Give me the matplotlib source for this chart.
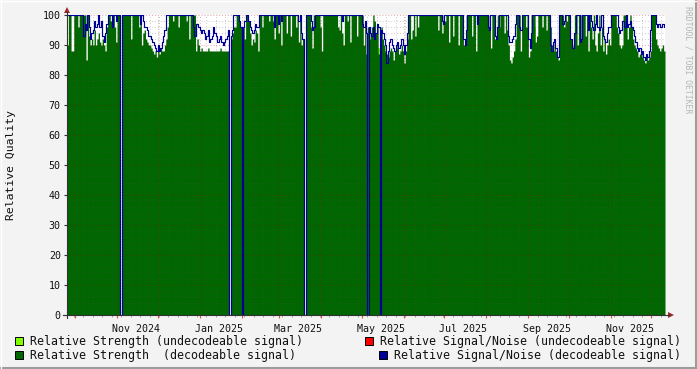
import datetime as dt
import matplotlib
matplotlib.use('Agg')
import matplotlib.pyplot as plt
import matplotlib.dates as mdates
from matplotlib.lines import Line2D
from matplotlib.patches import Rectangle, Polygon

# ================= 1. data (one value per day) =================
START = dt.date(2024, 9, 25)

strength = [
    90, 100, 100, 88, 88, 100, 100, 100, 96, 100,                 # 0-9
    100, 100, 100, 100, 85, 100, 93, 90, 92, 90,                  # 10-19
    95, 90, 92, 94, 91, 90, 92, 90, 88, 96,                       # 20-29
    100, 100, 98, 100, 100, 96, 91, 100, 100, 0,                  # 30-39
    0,                                                            # 40 gap
    100, 100, 100, 100, 100, 100, 92, 100, 100, 100,              # 41-50
    100, 100, 96, 100, 90, 94, 95, 92, 91, 90,                    # 51-60
    90, 89, 88, 87, 88, 86, 88, 87, 89, 88,                       # 61-70
    88, 90, 92, 96, 100, 100, 100, 98, 100, 100,                  # 71-80
    100, 96, 100, 100, 100, 100, 100, 98, 100, 92,                # 81-90
    100, 100, 100, 100, 88, 92, 90, 88, 89, 88,                   # 91-100
    88, 88, 88, 89, 88, 88, 88, 88, 88, 88,                       # 101-110
    88, 88, 89, 88, 88, 88, 88, 88, 88,                           # 111-119
    0,                                                            # 120 gap
    92, 94, 96, 96, 100, 100, 98, 96,                             # 121-128
    96,                                                           # 129
    96, 92, 100, 100, 98, 94, 90, 92, 91, 95, 94,                 # 130-140
    88, 100, 100, 96, 100, 100, 100, 100, 98, 100,                # 141-150
    100, 98, 92, 100, 100, 94, 100, 90, 100, 100,                 # 151-160
    100, 94, 100, 100, 93, 100, 100, 100, 96, 100, 91, 100, 90, 92, 0,    # 161-175
    0,                                                            # 176 gap
    100, 100, 100, 96, 89, 100, 100, 100, 100, 100, 96, 88, 100, 100,     # 177-190
    100, 100, 100, 100, 100, 100, 100, 100, 100, 96, 95, 100, 94, 90, 100,  # 191-205
    100, 98, 100, 91, 100, 100, 100, 100, 93, 100, 100, 100, 100, 90, 96, 87,  # 206-221
    96,                                                           # 222
    92, 94, 96, 100, 98, 94, 96, 87,                              # 223-230
    95,                                                           # 231
    96, 92, 90, 88, 87, 86, 88, 89, 88, 85, 88, 90, 89, 87, 88, 90, 88, 84, 88,  # 232-250
    92, 100, 100, 92, 95, 100, 93, 100, 96, 100, 100, 100, 100, 100, 100,   # 251-265
    100, 100, 100, 100, 100, 100, 100, 100, 95, 100, 100, 94, 100, 98, 100,
    100, 91, 100, 100, 93, 100, 100, 100, 90, 100,                # 266-290
    100, 100, 90, 92, 100, 100, 100, 100, 93, 100, 100, 88, 100, 100, 100,  # 291-305
    100, 100, 100, 100, 100, 96, 100, 89, 100, 100, 92, 92, 100, 96, 100,
    100, 100, 94, 100, 95,                                        # 306-325
    90, 85, 84, 86, 88, 92, 100, 100, 100, 88, 100, 100, 100, 96, 100,      # 326-340
    86, 88, 100, 100, 100, 91, 93, 100, 100, 100, 96, 100, 100, 95, 100,    # 341-355
    100, 96, 90, 88, 92, 88, 86, 85, 100, 100, 100, 96, 100, 98, 100,       # 356-370
    100, 92, 90, 89, 100, 100, 90, 100, 100, 92, 100, 100, 93, 100, 88,     # 371-385
    100, 96, 92, 100, 90, 88, 94, 100, 90, 96, 88, 92, 87, 90, 92,          # 386-400
    90, 100, 100, 100, 100, 96, 94, 90, 89, 90, 100, 100, 100, 92, 96,      # 401-415
    100, 96, 92, 90, 89, 88, 86, 87, 88, 86, 85, 84, 86, 85, 86,            # 416-430
    88, 100, 100, 100, 92, 90, 89, 88, 89, 90, 88,                # 431-441
]

snr = [
    100, 100, 100, 100, 100, 100, 100, 100, 100, 100,             # 0-9
    100, 100, 93, 97, 95, 100, 96, 92, 94, 95,                    # 10-19
    98, 96, 97, 100, 96, 98, 93, 91, 94, 97,                      # 20-29
    100, 100, 100, 96, 100, 100, 98, 100, 100, 0,                 # 30-39
    0,                                                            # 40
    100, 100, 100, 100, 100, 100, 100, 100, 100, 100,             # 41-50
    100, 100, 100, 97, 100, 98, 96, 96, 95, 93,                   # 51-60
    93, 92, 91, 90, 89, 88, 90, 88, 89, 91,                       # 61-70
    93, 95, 100, 100, 100, 100, 100, 100, 100, 100,               # 71-80
    100, 100, 100, 100, 100, 100, 100, 100, 100, 100,             # 81-90
    100, 100, 96, 93, 97, 97, 96, 95, 94, 95,                     # 91-100
    94, 92, 93, 95, 91, 92, 93, 96, 94, 93,                       # 101-110
    91, 92, 93, 91, 90, 91, 92, 93, 95,                           # 111-119
    0,                                                            # 120
    93, 95, 100, 100, 100, 100, 98, 96,                           # 121-128
    0,                                                            # 129
    96, 98, 100, 100, 98, 96, 95, 94, 95, 97, 96,                 # 130-140
    96, 100, 100, 100, 100, 100, 100, 100, 100, 100,              # 141-150
    100, 100, 96, 100, 100, 97, 100, 98, 100, 100,                # 151-160
    100, 100, 100, 100, 100, 100, 100, 100, 100, 100, 98, 100, 94, 92, 0,   # 161-175
    0,                                                            # 176
    100, 100, 100, 98, 95, 96, 100, 100, 100, 100, 100, 100, 100, 100,      # 177-190
    100, 100, 100, 100, 100, 100, 100, 100, 100, 100, 100, 100, 98, 100, 100,  # 191-205
    100, 100, 100, 100, 100, 100, 100, 100, 100, 100, 100, 100, 97, 96, 98, 94,  # 206-221
    0,                                                            # 222
    96, 94, 93, 96, 92, 94, 97, 96,                               # 223-230
    0,                                                            # 231
    95, 94, 92, 90, 84, 88, 91, 92, 90, 89, 88, 90, 91, 89, 90, 92, 90, 87, 90,  # 232-250
    94, 100, 100, 100, 100, 100, 100, 100, 100, 100, 100, 100, 100, 100, 100,  # 251-265
    100, 100, 100, 100, 100, 100, 100, 100, 100, 100, 100, 98, 97, 100, 100,
    100, 100, 100, 100, 100, 100, 100, 100, 100, 100,             # 266-290
    100, 100, 92, 90, 95, 100, 100, 100, 100, 100, 100, 100, 97, 100, 100,  # 291-305
    100, 100, 100, 100, 100, 96, 95, 100, 100, 100, 93, 92, 96, 100, 100,
    100, 100, 100, 100, 100,                                      # 306-325
    93, 91, 91, 92, 93, 97, 100, 100, 96, 95, 100, 100, 100, 100, 100,      # 326-340
    92, 89, 94, 100, 100, 100, 100, 100, 100, 100, 100, 100, 100, 100, 100,  # 341-355
    100, 90, 88, 91, 92, 89, 86, 86, 100, 100, 97, 98, 100, 100, 100,       # 356-370
    100, 92, 89, 89, 94, 100, 100, 100, 91, 92, 100, 100, 100, 100, 95,     # 371-385
    100, 98, 96, 95, 97, 100, 96, 95, 96, 100, 93, 92, 91, 94, 96,          # 386-400
    96, 100, 100, 100, 100, 100, 96, 94, 95, 98, 98, 96, 100, 96, 97,       # 401-415
    98, 96, 95, 93, 91, 89, 88, 89, 87, 88, 86, 85, 87, 86, 88,             # 416-430
    95, 100, 100, 100, 97, 96, 97, 96, 96, 97, 96,                # 431-441
]

# undecodeable strength, only a couple of days
undec_days = [230, 346]
undec_vals = [89, 96]

label_months = [(2024, 11), (2025, 1), (2025, 3), (2025, 5), (2025, 7), (2025, 9), (2025, 11)]

# colors
COL_BACK = '#F3F3F3'
COL_UNDEC_STR = '#80FF00'
COL_DEC_STR = '#006600'
COL_UNDEC_SNR = '#FF0000'
COL_DEC_SNR = '#000099'
COL_ARROW = '#9A2A2A'
MONO = 'DejaVu Sans Mono'

# ================= 2. figure =================
W, H = 697, 369
def fx(x):
    return x / W
def fy(y):
    return 1 - y / H

fig = plt.figure(figsize=(W / 100, H / 100), dpi=100, facecolor=COL_BACK)
ax = fig.add_axes([fx(67), fy(315), fx(665) - fx(67), fy(15) - fy(315)], facecolor='white')

dates = [START + dt.timedelta(days=i) for i in range(len(strength) + 1)]
s_ext = strength + [strength[-1]]
q_ext = snr + [snr[-1]]

ax.bar([START + dt.timedelta(days=d) for d in undec_days], undec_vals, width=1, align='edge',
       color=COL_UNDEC_STR, linewidth=0, zorder=1)
ax.fill_between(dates, 0, s_ext, step='post', color=COL_DEC_STR, linewidth=0, zorder=1)

ax.set_xlim(dates[0], dates[-1])
ax.set_ylim(0, 100)

# grid drawn over the area, rrdtool style
grid_ls = (0, (1, 2))
for v in range(0, 101, 2):
    if v % 10 == 0:
        ax.axhline(v, color='#B00000', alpha=0.35, lw=0.7, ls=grid_ls, zorder=2)
    else:
        ax.axhline(v, color='#505050', alpha=0.3, lw=0.7, ls=grid_ls, zorder=2)

week_loc = mdates.WeekdayLocator(byweekday=mdates.MO)
month_loc = mdates.MonthLocator()
lo, hi = ax.get_xlim()
for t in week_loc.tick_values(mdates.num2date(lo), mdates.num2date(hi)):
    if lo < t < hi:
        ax.axvline(t, color='#505050', alpha=0.3, lw=0.7, ls=grid_ls, zorder=2)
for t in month_loc.tick_values(mdates.num2date(lo), mdates.num2date(hi)):
    if lo < t < hi:
        ax.axvline(t, color='#B00000', alpha=0.3, lw=0.7, ls=grid_ls, zorder=2)

ax.plot(dates, q_ext, drawstyle='steps-post', color=COL_DEC_SNR, lw=0.85, zorder=3)

# ticks
for sp in ax.spines.values():
    sp.set_visible(False)
ax.set_yticks(range(0, 101, 10))
ax.tick_params(axis='y', length=2.5, width=0.8, color='#333333', pad=2,
               labelsize=7.2, labelfontfamily=MONO, labelcolor='#111111')
ax.xaxis.set_major_locator(month_loc)
ax.xaxis.set_minor_locator(week_loc)
ax.xaxis.set_major_formatter(plt.NullFormatter())
ax.tick_params(axis='x', which='major', length=2.5, width=0.8, color='#E05050')
ax.tick_params(axis='x', which='minor', length=1.5, width=0.6, color='#999999')

for yr, mo in label_months:
    mid = dt.date(yr, mo, 15)
    ax.text(mid, -0.03, mid.strftime('%b %Y'), transform=ax.get_xaxis_transform(),
            ha='center', va='top', fontsize=7.2, family=MONO, color='#111111')

fig.text(fx(11), fy(165), 'Relative Quality', rotation=90, ha='center', va='center',
         fontsize=8.2, family=MONO, color='#111111')

# axis lines with arrows
fig.add_artist(Line2D([fx(63), fx(669)], [fy(315), fy(315)], color='#333333', lw=0.8))
fig.add_artist(Line2D([fx(67), fx(67)], [fy(318), fy(12)], color='#333333', lw=0.8))
fig.add_artist(Polygon([[fx(668), fy(312)], [fx(674), fy(315)], [fx(668), fy(318)]],
                       closed=True, color=COL_ARROW, lw=0))
fig.add_artist(Polygon([[fx(64), fy(13)], [fx(67), fy(7)], [fx(70), fy(13)]],
                       closed=True, color=COL_ARROW, lw=0))

# watermark
fig.text(fx(688), fy(60), 'RRDTOOL / TOBI OETIKER', rotation=270, ha='center', va='center',
         fontsize=5.9, family=MONO, color='#B5B5B5')

# legend
legend_left = [(COL_UNDEC_STR, 'Relative Strength (undecodeable signal)', 341),
               (COL_DEC_STR, 'Relative Strength  (decodeable signal)', 355)]
legend_right = [(COL_UNDEC_SNR, 'Relative Signal/Noise (undecodeable signal)', 341, 365),
                (COL_DEC_SNR, 'Relative Signal/Noise (decodeable signal)', 355, 379)]
for col, txt, yc in legend_left:
    fig.add_artist(Rectangle((fx(15), fy(yc + 4)), 8 / W, 8 / H, facecolor=col,
                             edgecolor='black', lw=0.7))
    fig.text(fx(30), fy(yc), txt, ha='left', va='center', fontsize=8.4, family=MONO, color='#111111')
for col, txt, yc, sx in legend_right:
    fig.add_artist(Rectangle((fx(sx), fy(yc + 4)), 8 / W, 8 / H, facecolor=col,
                             edgecolor='black', lw=0.7))
    fig.text(fx(681), fy(yc), txt, ha='right', va='center', fontsize=8.4, family=MONO, color='#111111')

# 3d frame
fig.add_artist(Line2D([0, 1], [fy(368), fy(368)], color='#9C9C9C', lw=1.5))
fig.add_artist(Line2D([fx(696), fx(696)], [0, 1], color='#9C9C9C', lw=1.5))
fig.add_artist(Line2D([0, 1], [fy(0.5), fy(0.5)], color='#FFFFFF', lw=1))
fig.add_artist(Line2D([fx(0.5), fx(0.5)], [0, 1], color='#FFFFFF', lw=1))

fig.savefig('out.png', dpi=100, facecolor=COL_BACK)
